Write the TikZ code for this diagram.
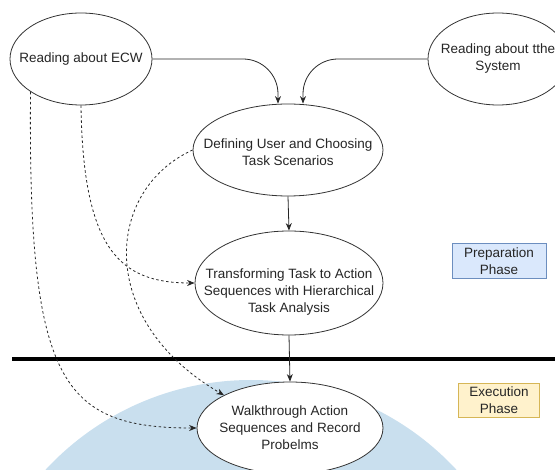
\documentclass[tikz,border=0pt]{standalone}
\usepackage{fontspec}
\setmainfont{Liberation Sans}
\usetikzlibrary{arrows.meta,shapes,calc}
\definecolor{prepblue}{HTML}{DAE8FC}
\definecolor{prepline}{HTML}{6C8EBF}
\definecolor{execyellow}{HTML}{FFF2CC}
\definecolor{execline}{HTML}{D6B656}
\definecolor{walkblue}{HTML}{C9DFEE}
\tikzstyle{task}=[ellipse,draw=black!80,fill=white,line width=0.8pt,inner sep=0pt]
\tikzstyle{tasktext}=[align=center,font=\fontsize{13.5}{17}\selectfont,text=black!85]
\tikzstyle{phase}=[rectangle,line width=0.6pt,inner sep=0pt,align=center,font=\fontsize{13.5}{17}\selectfont,text=black!85]
\tikzstyle{edge}=[draw,line width=0.8pt,black!85,-{Stealth[length=7.5pt,width=6pt]}]
\tikzstyle{readedge}=[edge,dash pattern=on 2.5pt off 2.5pt]

\begin{document}
\begin{tikzpicture}[x=1pt,y=-1pt]
    \clip (0,0) rectangle (555,470);
    % The execution area first
    \fill[walkblue] (251,660) circle (280);
    % Then the tasks
    \foreach \pos/\name/\w/\h/\dy/\txt in {{(81,59)/ecw/142/92/0/{Reading about ECW}}, {(498,59)/sys/140/92/0/{Reading about tthe\\System}}, {(288,150)/def/190/92/-2/{Defining User and Choosing\\Task Scenarios}}, {(289,283)/trans/188/104/-9/{Transforming Task to Action\\Sequences with Hierarchical\\Task Analysis}}, {(290,428)/walk/186/92/0/{Walkthrough Action\\Sequences and Record\\Probelms}}}
        \node[task,minimum width=\w pt,minimum height=\h pt,label={[tasktext,yshift=\dy pt]center:\txt}] (\name) at \pos {};

    % Phase boxes
    \node[phase,fill=prepblue,draw=prepline,minimum width=94pt,minimum height=35pt] (prep) at (499,261) {Preparation\\Phase};
    \node[phase,fill=execyellow,draw=execline,minimum width=81pt,minimum height=34pt] (exec) at (499,400) {Execution\\Phase};

    % Border between the phases
    \draw[line width=3.5pt] (12,359) -- (555,359);

    % Connect the tasks
    \path[edge,rounded corners=35pt] (ecw.east) -| ($(def.north)+(-10,0)$);
    \path[edge,rounded corners=35pt] (sys.west) -| ($(def.north)+(15,0)$);
    \path[edge] (def.south) -- (trans.north);
    \path[edge] (trans.south) -- (walk.north);
    \path[readedge] (ecw.south west) .. controls (28,380) and (60,428) .. (walk.west);
    \path[readedge] (ecw.south) .. controls (83,250) and (120,283) .. (trans.west);
    \path[readedge] (def.west) .. controls (105,190) and (95,320) .. (walk.north west);
\end{tikzpicture}
\end{document}
